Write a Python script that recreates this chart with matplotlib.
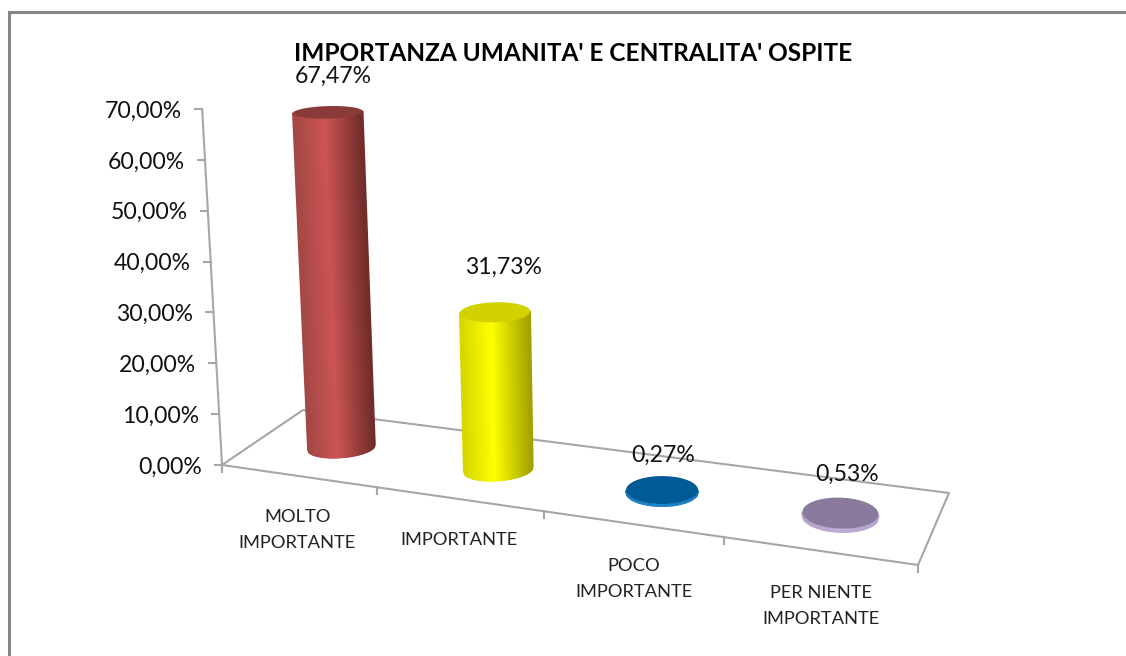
import numpy as np
import matplotlib
matplotlib.use('Agg')
import matplotlib.pyplot as plt
from matplotlib.collections import PolyCollection
from matplotlib.colors import LinearSegmentedColormap

categories = ['MOLTO\nIMPORTANTE', 'IMPORTANTE', 'POCO\nIMPORTANTE', 'PER NIENTE\nIMPORTANTE']
values = [67.47, 31.73, 0.27, 0.53]
value_labels = ['67,47%', '31,73%', '0,27%', '0,53%']
ticks = [0, 10, 20, 30, 40, 50, 60, 70]
tick_labels = ['0,00%', '10,00%', '20,00%', '30,00%', '40,00%', '50,00%', '60,00%', '70,00%']
title = "IMPORTANZA UMANITA' E CENTRALITA' OSPITE"

# left, middle, right of the cylinder side, then top cap
bar_colors = [
    ['#a34745', '#cb5553', '#6f2c2a', '#8a3a38'],
    ['#d6d600', '#ffff00', '#a0a000', '#d2d200'],
    ['#1a7fc4', '#1f86cc', '#1a7fc4', '#005a96'],
    ['#b4a4cc', '#bcaed4', '#b4a4cc', '#8a7a9b'],
]
# ellipse look of each cylinder, in pixels
bar_rx = [33.5, 34.5, 36, 38]
bar_ry = [10, 11, 14, 15.5]
bar_tilt = [-0.075, -0.07, 0, 0.03]
cap_flat = [0.6, 0.9, 1, 1]
nudge_x = [3.5, 5, 2, 1]
nudge_y = [1, 2, 2, 2]
label_dx = [5, 9, 1, 7]
label_dy = [-36, -45, -35, -39]
cat_dx = [-1, 0, 2, 2]
cat_dy = [54, 41, 55, 55]

W, H = 1126, 656
grey = '#a6a6a6'
plt.rcParams['font.family'] = ['Lato', 'DejaVu Sans']

# floor corners in pixels: front left, front right, back right, back left
src = [(0, 0), (4, 0), (4, 1), (0, 1)]
dst = [(222, 465), (918, 565), (949, 493), (303, 410)]
A = []
b = []
for (u, v), (x, y) in zip(src, dst):
    A.append([u, v, 1, 0, 0, 0, -u * x, -v * x])
    A.append([0, 0, 0, u, v, 1, -u * y, -v * y])
    b += [x, y]
h = np.append(np.linalg.solve(np.array(A, dtype=float), np.array(b, dtype=float)), 1).reshape(3, 3)

vanish = np.array([670.0, 8500.0])
axis_k = 356 / 70 / 8035
bar_k = 335 / 67.47 / 8051


def project(u, v, val=0, k=bar_k):
    u = np.asarray(u, dtype=float)
    v = np.asarray(v, dtype=float)
    d = h[2, 0] * u + h[2, 1] * v + h[2, 2]
    x = (h[0, 0] * u + h[0, 1] * v + h[0, 2]) / d
    y = (h[1, 0] * u + h[1, 1] * v + h[1, 2]) / d
    s = np.asarray(val, dtype=float) * k
    return x + s * (x - vanish[0]), y + s * (y - vanish[1])


def lift(x, y, val):
    s = val * bar_k
    return x + s * (x - vanish[0]), y + s * (y - vanish[1])


fig = plt.figure(figsize=(W / 100, H / 100), dpi=100)
ax = fig.add_axes([0, 0, 1, 1])
ax.set_xlim(0, W)
ax.set_ylim(H, 0)
ax.axis('off')

# outer frame
ax.plot([9, 9, W], [H, 12, 12], color='#868686', lw=2.2, solid_joinstyle='miter')

# floor
fx, fy = project([0, 4, 4, 0, 0], [0, 0, 1, 1, 0])
ax.plot(fx, fy, color=grey, lw=1.5, zorder=1)

# value axis
ax_x, ax_y = project([0, 0], [0, 0], [0, 70], axis_k)
ax.plot(ax_x, ax_y, color=grey, lw=1.5, zorder=1)
for t, lab in zip(ticks, tick_labels):
    px, py = project(0, 0, t, axis_k)
    ax.plot([px - 7, px], [py, py], color=grey, lw=1.5, zorder=1)
    ax.text(px - 20, py + 2, lab, ha='right', va='center', fontsize=16.6, color='#111111')

# category ticks and labels
for i in range(5):
    px, py = project(i, 0)
    ax.plot([px, px], [py, py + 7], color=grey, lw=1.5, zorder=1)
for i, cat in enumerate(categories):
    px, py = project(i + 0.5, 0)
    ax.text(px + cat_dx[i], py + cat_dy[i], cat, ha='center', va='center', fontsize=13.2, color='#222222',
            linespacing=1.8)

# cylinders, side strips run evenly across the width
c = np.linspace(-1, 1, 61)
t_front = 2 * np.pi - np.arccos(c)
t_all = np.linspace(0, 2 * np.pi, 121)
for i, val in enumerate(values):
    cols = bar_colors[i]
    cmap = LinearSegmentedColormap.from_list('side', [(0, cols[0]), (0.45, cols[1]), (1, cols[2])])
    x0, y0 = project(i + 0.5, 0.5)
    x0 = x0 + nudge_x[i]
    y0 = y0 + nudge_y[i]
    rx, ry, tilt = bar_rx[i], bar_ry[i], bar_tilt[i]
    cap_tilt = tilt * 0.4 if val > 1 else tilt
    bx = x0 + rx * np.cos(t_front)
    by = y0 - ry * np.sin(t_front) + tilt * rx * np.cos(t_front)
    xt, yt = lift(x0, y0, val)
    scale = 1 + val * bar_k
    tx = xt + scale * rx * np.cos(t_front)
    ty = yt - scale * ry * cap_flat[i] * np.sin(t_front) + cap_tilt * rx * np.cos(t_front)
    strips = []
    shades = []
    for j in range(len(t_front) - 1):
        strips.append([(bx[j], by[j]), (bx[j + 1], by[j + 1]), (tx[j + 1], ty[j + 1]), (tx[j], ty[j])])
        shades.append(cmap((c[j] + 1) / 2))
    ax.add_collection(PolyCollection(strips, facecolors=shades, edgecolors=shades, linewidths=1.2, zorder=3))
    cx = xt + scale * rx * np.cos(t_all)
    cy = yt - scale * ry * cap_flat[i] * np.sin(t_all) + cap_tilt * rx * np.cos(t_all)
    # flat bars: cap sits just above a thin light rim
    ax.fill(cx, cy - (0.7 if val < 1 else 0), color=cols[3], lw=0, zorder=4)
    ax.text(xt + label_dx[i], yt + label_dy[i], value_labels[i], ha='center', va='center', fontsize=16.6,
            color='#111111', zorder=5)

ax.text(573, 53.5, title, ha='center', va='center', fontsize=17.6, fontweight='bold', color='black', zorder=6)

fig.savefig('out.png', dpi=100)
